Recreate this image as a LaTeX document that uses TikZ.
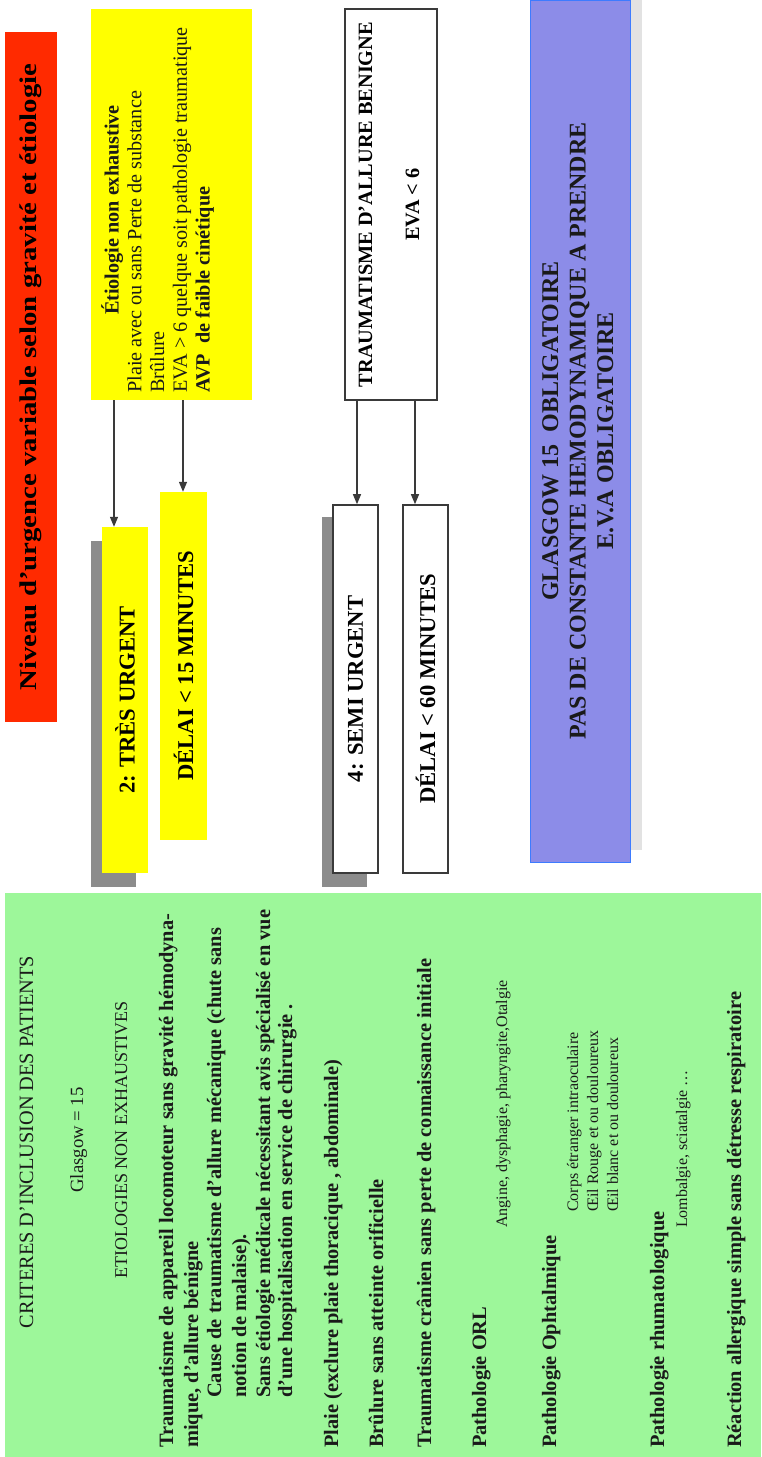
\documentclass[tikz,border=0pt]{standalone}
\usepackage{fontspec}
\setmainfont{Liberation Serif}
\newfontfamily\titlefont{Liberation Serif}[FakeStretch=1.2]
\usepackage{graphicx}
\usetikzlibrary{arrows.meta}
\definecolor{redbox}{HTML}{FF2A00}
\definecolor{yel}{HTML}{FFFF00}
\definecolor{greenbg}{HTML}{9DF79A}
\definecolor{bluefill}{HTML}{8C8CE8}
\definecolor{bluebd}{HTML}{3D7BFF}
\definecolor{shadowgray}{HTML}{8C8C8C}
\definecolor{lightshadow}{HTML}{E2E2E2}
\definecolor{boxline}{HTML}{3A3A3A}
\definecolor{txt}{HTML}{1A1A1A}
\newcommand{\setfs}[2]{\fontsize{#1}{#2}\selectfont}
\begin{document}
\begin{tikzpicture}[x=1pt,y=-1pt,
  frame/.style={draw=boxline, line width=1.6pt, inner sep=0pt},
  plainbox/.style={inner sep=0pt},
  arr/.style={draw=boxline, line width=1.3pt, -{Triangle[length=10pt,width=8pt]}},
  gl/.style={rotate=90, anchor=base west, inner sep=0pt, text=txt, font=\bfseries\setfs{20.4}{24}},
  gs/.style={rotate=90, anchor=base west, inner sep=0pt, text=txt, font=\setfs{16}{19}},
  gc/.style={rotate=90, anchor=base, inner sep=0pt, text=txt}]
\useasboundingbox (0,0) rectangle (761,1457);

% title
\node[plainbox, fill=redbox, minimum width=52pt, minimum height=690pt] (title) at (31,377)
  {\rotatebox{90}{\titlefont\bfseries\setfs{24}{28}Niveau d’urgence variable selon gravité et étiologie}};

% etiology (yellow)
\node[plainbox, fill=yel, minimum width=161pt, minimum height=391pt] (etio) at (171.5,204.5) {};
\node[rotate=90, anchor=base west, inner sep=0pt, text=txt, font=\setfs{20.2}{22.75}] (etiotxt) at (118.5,393)
 {\begin{tabular}[t]{@{}l@{}}\multicolumn{1}{@{}c@{}}{\bfseries Étiologie non exhaustive}\\
 Plaie avec ou sans Perte de substance\\ Brûlure\\ EVA > 6 quelque soit pathologie traumatique\\ \bfseries AVP\ \ de faible cinétique\end{tabular}};

% traumatisme (white)
\node[frame, fill=white, minimum width=92pt, minimum height=391pt] (trauma) at (391,204.5)
 {\rotatebox{90}{\bfseries\setfs{20.3}{23.5}\begin{tabular}{@{}c@{}}TRAUMATISME D’ALLURE BENIGNE\\[23.5pt] EVA < 6\end{tabular}}};

% shadows
\fill[shadowgray] (91,541) rectangle (136,887);
\fill[shadowgray] (322,517) rectangle (367,887);

% level boxes
\node[plainbox, fill=yel, minimum width=46pt, minimum height=346pt] (tres) at (125,700)
 {\rotatebox{90}{\bfseries\setfs{22.6}{26}2: TRÈS URGENT}};
\node[plainbox, fill=yel, minimum width=47pt, minimum height=348pt] (d15) at (183.5,666)
 {\rotatebox{90}{\bfseries\setfs{22.6}{26}DÉLAI < 15 MINUTES}};
\node[frame, fill=white, minimum width=45pt, minimum height=368pt] (semi) at (355.5,689)
 {\rotatebox{90}{\bfseries\setfs{22.6}{26}4: SEMI URGENT}};
\node[frame, fill=white, minimum width=45pt, minimum height=368pt] (d60) at (425.5,689)
 {\rotatebox{90}{\bfseries\setfs{22.6}{26}DÉLAI < 60 MINUTES}};

% connectors
\coordinate (a1) at (114,0);
\coordinate (a2) at (183,0);
\coordinate (a3) at (357,0);
\coordinate (a4) at (415,0);
\draw[arr] (etio.south -| a1) -- (tres.north -| a1);
\draw[arr] (etio.south -| a2) -- (d15.north -| a2);
\draw[arr] (trauma.south -| a3) -- (semi.north -| a3);
\draw[arr] (trauma.south -| a4) -- (d60.north -| a4);

% blue box
\fill[lightshadow] (542,-12) rectangle (642,850);
\node[draw=bluebd, fill=bluefill, line width=1pt, minimum width=100pt, minimum height=862pt, inner sep=0pt] (blue) at (580,431)
 {\rotatebox{90}{\bfseries\setfs{24}{27.5}\color{txt}\begin{tabular}{@{}c@{}}GLASGOW 15\ \ OBLIGATOIRE\\ PAS DE CONSTANTE HEMODYNAMIQUE A PRENDRE\\ E.V.A OBLIGATOIRE\end{tabular}}};

% green criteria box
\node[plainbox, fill=greenbg, minimum width=756pt, minimum height=564pt] (crit) at (383,1175) {};
\node[gc, font=\setfs{20.3}{24}] (c1) at (33,1142) {CRITERES D’INCLUSION DES PATIENTS};
\node[gc, font=\setfs{18.7}{22}] (c2) at (83,1140) {Glasgow = 15};
\node[gc, font=\setfs{18}{22}] (c3) at (127,1140) {ETIOLOGIES NON EXHAUSTIVES};
\node[gl] (g1) at (173,1448) {Traumatisme de appareil locomoteur sans gravité hémodyna-};
\node[gl] (g2) at (198,1448) {mique, d’allure bénigne};
\node[gl] (g3) at (221,1398) {Cause de traumatisme d’allure mécanique (chute sans};
\node[gl] (g4) at (246,1398) {notion de malaise).};
\node[gl] (g5) at (270,1398) {Sans étiologie médicale nécessitant avis spécialisé en vue};
\node[gl] (g6) at (292,1398) {d’une hospitalisation en service de chirurgie .};
\node[gl] (g7) at (338,1448) {Plaie (exclure plaie thoracique , abdominale)};
\node[gl] (g8) at (383,1448) {Brûlure sans atteinte orificielle};
\node[gl] (g9) at (431,1448) {Traumatisme crânien sans perte de connaissance initiale};
\node[gl] (g10) at (486,1448) {Pathologie ORL};
\node[gs] (g11) at (507,1228) {Angine, dysphagie, pharyngite,Otalgie};
\node[gl] (g12) at (556,1448) {Pathologie Ophtalmique};
\node[gs] (g13) at (578,1212) {Corps étranger intraoculaire};
\node[gs] (g14) at (598,1212) {Œil Rouge et ou douloureux};
\node[gs] (g15) at (618,1212) {Œil blanc et ou douloureux};
\node[gl] (g16) at (664,1448) {Pathologie rhumatologique};
\node[gs] (g17) at (687,1228) {Lombalgie, sciatalgie …};
\node[gl] (g18) at (741,1448) {Réaction allergique simple sans détresse respiratoire};
\end{tikzpicture}
\end{document}
